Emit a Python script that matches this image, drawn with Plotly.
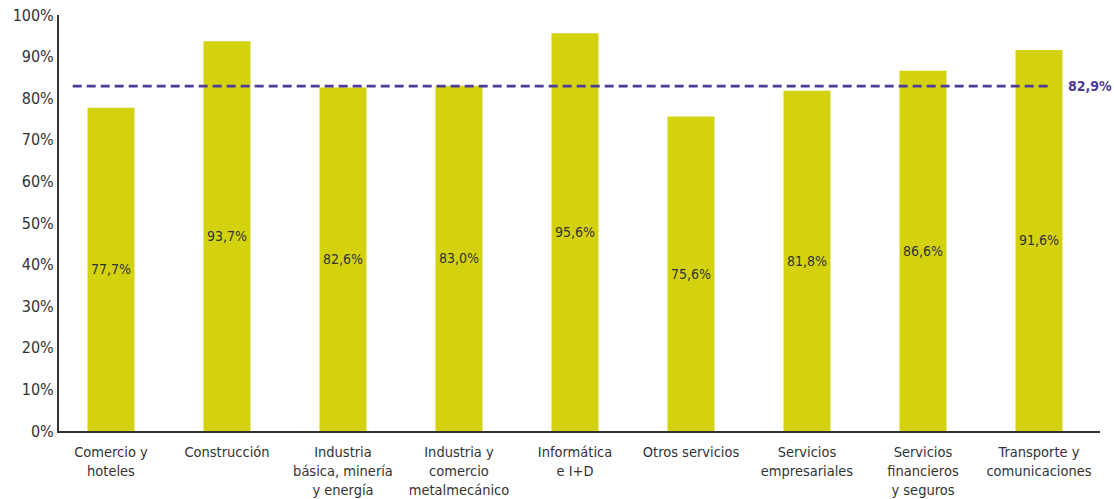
import plotly.graph_objects as go

# Sector shares (%) and the overall average
categories = [
    "Comercio y<br>hoteles",
    "Construcción",
    "Industria<br>básica, minería<br>y energía",
    "Industria y<br>comercio<br>metalmecánico",
    "Informática<br>e I+D",
    "Otros servicios",
    "Servicios<br>empresariales",
    "Servicios<br>financieros<br>y seguros",
    "Transporte y<br>comunicaciones",
]
values = [77.7, 93.7, 82.6, 83.0, 95.6, 75.6, 81.8, 86.6, 91.6]
average = 82.9
y_ticks = [0, 10, 20, 30, 40, 50, 60, 70, 80, 90, 100]

BAR = "#d4d20f"
AVG = "#4e3a99"
TEXT = "#333333"
FONT = "Liberation Sans Narrow, DejaVu Sans Condensed, Arial Narrow, sans-serif"

x_idx = list(range(len(categories)))

fig = go.Figure()
fig.add_trace(go.Bar(
    x=x_idx,
    y=values,
    width=0.405,
    marker=dict(color=BAR, line=dict(width=0)),
    texttemplate="%{y:.1f}%",
    textposition="inside",
    insidetextanchor="middle",
    textangle=0,
    textfont=dict(family=FONT, size=14, color=TEXT),
    hoverinfo="skip",
))

# Average line across all sectors
line_x = [-0.33, len(categories) - 0.92]
fig.add_trace(go.Scatter(
    x=line_x,
    y=[average, average],
    mode="lines",
    line=dict(color=AVG, width=2.8, dash="9px,5px"),
    hoverinfo="skip",
))
fig.add_annotation(
    x=line_x[1], y=average,
    xref="x", yref="y",
    text=f"<b>{average:.1f}%</b>".replace(".", ","),
    showarrow=False,
    xanchor="left",
    xshift=18,
    font=dict(family=FONT, size=14, color=AVG),
)

fig.update_layout(
    width=1114,
    height=499,
    margin=dict(l=59, r=14, t=15, b=68),
    paper_bgcolor="white",
    plot_bgcolor="white",
    showlegend=False,
    separators=",.",
    xaxis=dict(
        tickmode="array",
        tickvals=x_idx,
        ticktext=categories,
        range=[-0.448, 8.526],
        automargin=False,
        showgrid=False,
        zeroline=False,
        showline=True,
        linecolor=TEXT,
        linewidth=2,
        ticks="",
        ticklabelstandoff=7,
        tickfont=dict(family=FONT, size=14.5, color=TEXT),
    ),
    yaxis=dict(
        range=[0, 100],
        tickmode="array",
        tickvals=y_ticks,
        ticktext=[f"{v}%" for v in y_ticks],
        automargin=False,
        showgrid=False,
        zeroline=False,
        showline=True,
        linecolor=TEXT,
        linewidth=2,
        ticks="",
        tickfont=dict(family=FONT, size=16, color=TEXT),
    ),
)

fig.write_html("out.html")
